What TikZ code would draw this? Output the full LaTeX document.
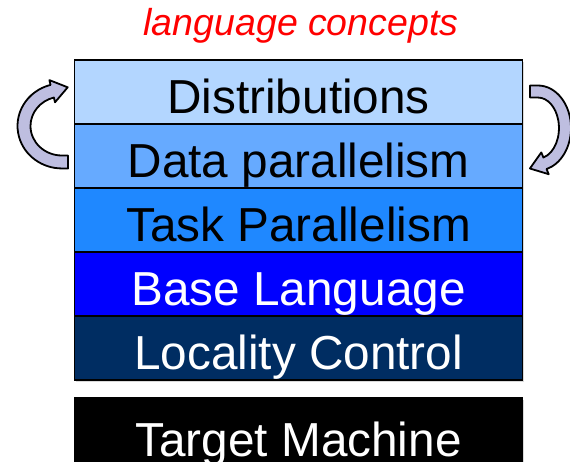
\documentclass[tikz,border=0pt]{standalone}
\usepackage{fontspec}
\setmainfont{Liberation Sans}
\usetikzlibrary{positioning,shadows}
\definecolor{layerpale}{RGB}{179,214,255}
\definecolor{layerlight}{RGB}{102,170,255}
\definecolor{layermid}{RGB}{31,136,255}
\definecolor{layerbase}{RGB}{0,0,255}
\definecolor{layernavy}{RGB}{0,45,98}
\definecolor{loopfill}{RGB}{190,190,224}
\tikzset{
  layer box/.style={
    draw=black,
    line width=1.6pt,
    outer sep=0pt,
    inner sep=0pt,
    minimum width=448pt,
    minimum height=64pt,
    text height=42pt,
    text depth=0pt,
    font=\fontsize{47.7}{50}\selectfont,
    drop shadow={shadow xshift=1.5pt,shadow yshift=-1.5pt,opacity=0.3},
  },
  loop arrow/.style={
    draw=black,
    line width=1.8pt,
    fill=loopfill,
    line join=round,
  },
}

\begin{document}
\begin{tikzpicture}[x=1pt,y=-1pt]
  \useasboundingbox (0,0) rectangle (570,461);
  \clip (0,0) rectangle (570,461);

  \node[font=\fontsize{37.5}{40}\selectfont\itshape, text=red, anchor=base] (concepts) at (301,35)
    {language concepts};

  % layer stack
  \node[layer box, fill=layerpale, anchor=north] (distrib) at (298.6,60) {Distributions};
  \node[layer box, fill=layerlight, below=0pt of distrib] (datapar) {Data parallelism};
  \node[layer box, fill=layermid, below=0pt of datapar] (taskpar) {Task Parallelism};
  \node[layer box, fill=layerbase, text=white, below=0pt of taskpar] (baselang) {Base Language};
  \node[layer box, fill=layernavy, text=white, below=0pt of baselang] (locality) {Locality Control};
  \node[layer box, fill=black, text=white, minimum height=75pt, below=18pt of locality] (target)
    {Target Machine};

  % left loop
  \draw[loop arrow] (68,155.5) -- (62,155.5)
    arc[start angle=90, end angle=255, x radius=31.5, y radius=29.5]
    -- (55.0,102.3) -- (67.7,87.3) -- (49.4,80.1) -- (50.5,84.9)
    arc[start angle=255, end angle=90, x radius=44.5, y radius=42.5]
    -- (68,168.5) -- cycle;

  % right loop
  \draw[loop arrow] (530,85.5) -- (538,85.5)
    arc[start angle=-90, end angle=75, x radius=33, y radius=42.5]
    -- (548.7,174.2) -- (529.9,168.5) -- (541.3,152.4) -- (543.4,157.5)
    arc[start angle=75, end angle=-90, x radius=21, y radius=30.5]
    -- (530,97.5) -- cycle;
\end{tikzpicture}
\end{document}
